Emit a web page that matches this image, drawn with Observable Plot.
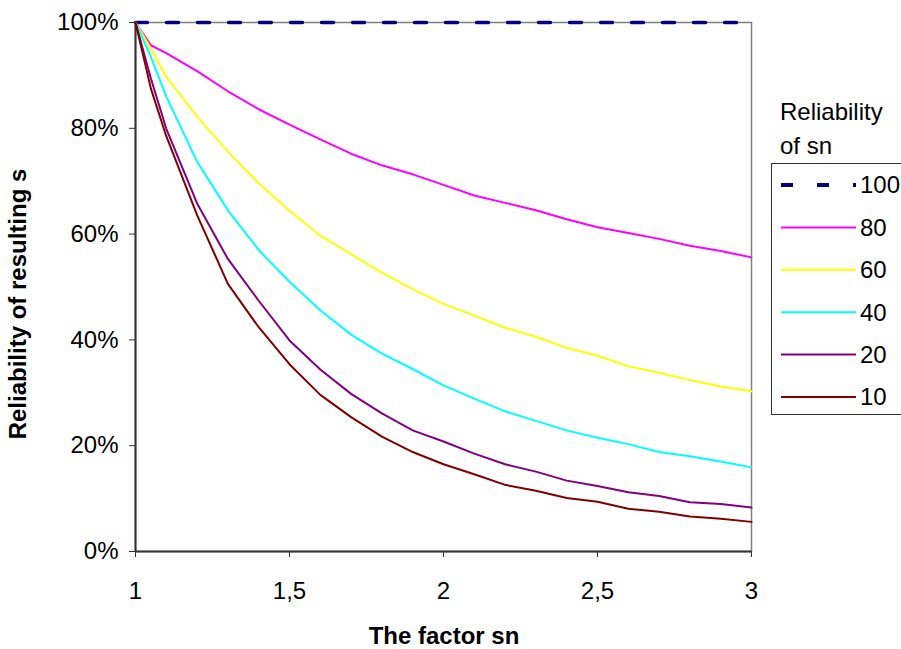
<!DOCTYPE html>
<html>
<head>
<meta charset="utf-8">
<script src="https://cdn.jsdelivr.net/npm/d3@7"></script>
<script src="https://cdn.jsdelivr.net/npm/@observablehq/plot@0.6"></script>
<style>
  html, body { margin: 0; padding: 0; background: #fff; }
  #chart { width: 901px; height: 649px; overflow: hidden; }
</style>
</head>
<body>
<div id="chart"></div>
<script>
// The factor sn (x axis)
const factor = [1, 1.05, 1.1, 1.2, 1.3, 1.4, 1.5, 1.6, 1.7, 1.8, 1.9, 2.0,
                2.1, 2.2, 2.3, 2.4, 2.5, 2.6, 2.7, 2.8, 2.9, 3.0];

// Reliability of resulting s (%) for each reliability of sn
const rel100 = [100, 100, 100, 100, 100, 100, 100, 100, 100, 100, 100, 100,
                100, 100, 100, 100, 100, 100, 100, 100, 100, 100];
const rel80  = [100, 95.7, 94.2, 90.8, 87.0, 83.6, 80.7, 77.9, 75.2, 73.0, 71.3, 69.3,
                67.3, 65.9, 64.5, 62.8, 61.3, 60.2, 59.1, 57.8, 56.8, 55.6];
const rel60  = [100, 95.1, 89.7, 82.2, 75.6, 69.6, 64.4, 59.7, 56.2, 52.7, 49.6, 46.8,
                44.6, 42.3, 40.6, 38.5, 37.0, 35.0, 33.8, 32.4, 31.2, 30.3];
const rel40  = [100, 93.5, 86.0, 73.7, 64.5, 57.0, 51.0, 45.6, 41.0, 37.4, 34.5, 31.4,
                28.9, 26.5, 24.7, 22.9, 21.5, 20.3, 18.8, 18.0, 17.0, 15.9];
const rel20  = [100, 89.4, 79.9, 65.8, 55.3, 47.4, 39.9, 34.4, 29.8, 26.1, 22.9, 20.8,
                18.5, 16.5, 15.1, 13.4, 12.4, 11.2, 10.5, 9.3, 9.0, 8.3];
const rel10  = [100, 87.5, 78.5, 63.6, 50.6, 42.4, 35.4, 29.6, 25.4, 21.7, 18.8, 16.5,
                14.6, 12.6, 11.5, 10.1, 9.4, 8.1, 7.5, 6.6, 6.2, 5.6];

const seriesNames = ["100", "80", "60", "40", "20", "10"];
const seriesValues = [rel100, rel80, rel60, rel40, rel20, rel10];
const seriesColors = ["#000080", "#FF00FF", "#FFFF00", "#00FFFF", "#800080", "#800000"];

const xTicks = [1, 1.5, 2, 2.5, 3];
const yTicks = [0, 20, 40, 60, 80, 100];

const xTitle = "The factor sn";
const yTitle = "Reliability of resulting s";
const legendTitle = ["Reliability", "of sn"];

// Long-format rows for the line marks
const rows = seriesNames.flatMap((name, i) =>
  factor.map((f, j) => ({series: name, factor: f, value: seriesValues[i][j]})));

const font = "'Liberation Sans', Arial, sans-serif";

const lineMarks = seriesNames.map((name, i) =>
  Plot.line(rows.filter(d => d.series === name), {
    x: "factor", y: "value",
    stroke: seriesColors[i],
    strokeWidth: name === "100" ? 3.5 : 2,
    strokeDasharray: name === "100" ? "12,19" : null,
    strokeLinejoin: "round"
  }));

const chart = Plot.plot({
  width: 901,
  height: 649,
  marginLeft: 135,
  marginRight: 150,
  marginTop: 22,
  marginBottom: 98,
  style: {fontFamily: font, fontSize: "24px", color: "#000", background: "#fff", overflow: "visible"},
  x: {domain: [1, 3]},
  y: {domain: [0, 100]},
  marks: [
    Plot.frame({stroke: "#808080", strokeWidth: 1.5}),
    Plot.ruleX([1], {stroke: "#333", strokeWidth: 2}),
    Plot.ruleY([0], {stroke: "#333", strokeWidth: 2}),
    Plot.axisY({ticks: yTicks, tickSize: 6, tickPadding: 11, stroke: "#333",
                tickFormat: d => d + "%", label: null, fontSize: 24}),
    Plot.axisX({ticks: xTicks, tickSize: 6, tickPadding: 24, stroke: "#333",
                tickFormat: d => String(d).replace(".", ","), label: null, fontSize: 24}),
    ...lineMarks
  ]
});

document.getElementById("chart").appendChild(chart);

// Axis titles and legend
const svg = d3.select(chart);

svg.append("text")
  .attr("x", 444).attr("y", 644)
  .attr("text-anchor", "middle")
  .attr("font-family", font).attr("font-size", 24).attr("font-weight", "bold")
  .text(xTitle);

svg.append("text")
  .attr("transform", "translate(26,304) rotate(-90)")
  .attr("text-anchor", "middle")
  .attr("font-family", font).attr("font-size", 24).attr("font-weight", "bold")
  .text(yTitle);

const legend = svg.append("g").attr("text-anchor", "start");
legendTitle.forEach((t, i) => {
  legend.append("text")
    .attr("x", 780).attr("y", 120 + i * 34)
    .attr("text-anchor", "start")
    .attr("font-family", font).attr("font-size", 24)
    .text(t);
});
legend.append("rect")
  .attr("x", 771.5).attr("y", 163.5)
  .attr("width", 160).attr("height", 251)
  .attr("fill", "#fff").attr("stroke", "#333").attr("stroke-width", 1);

seriesNames.forEach((name, i) => {
  const y = 185 + i * 42.4;
  legend.append("line")
    .attr("x1", 781).attr("x2", 856).attr("y1", y).attr("y2", y)
    .attr("stroke", seriesColors[i])
    .attr("stroke-width", name === "100" ? 4 : 2)
    .attr("stroke-dasharray", name === "100" ? "12,24" : null);
  legend.append("text")
    .attr("x", 860).attr("y", y).attr("dy", "0.35em")
    .attr("text-anchor", "start")
    .attr("font-family", font).attr("font-size", 24)
    .text(name);
});
</script>
</body>
</html>
